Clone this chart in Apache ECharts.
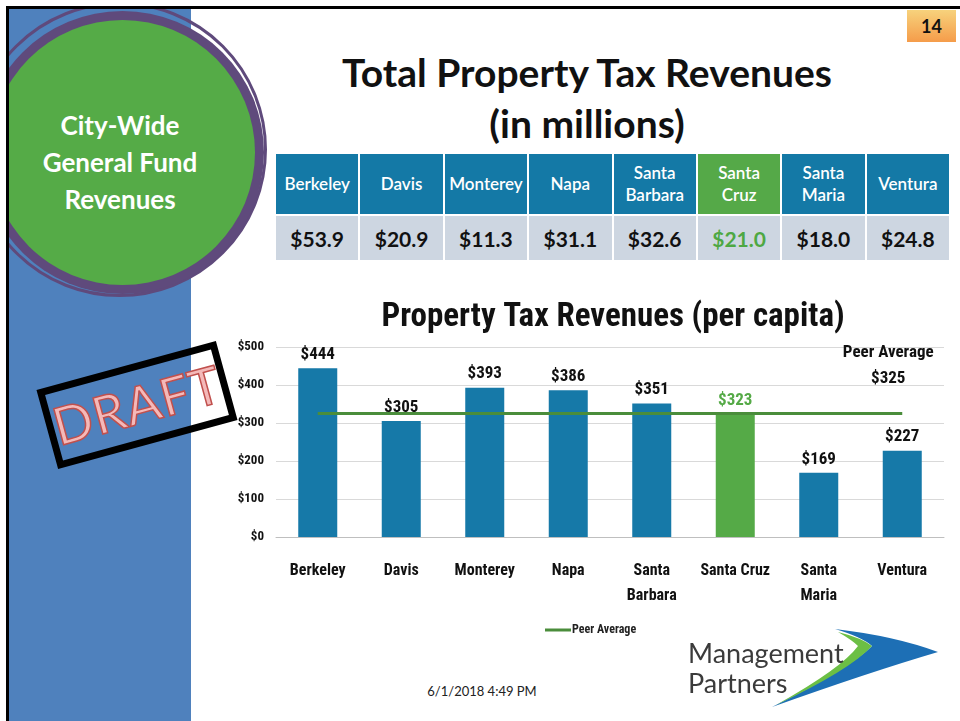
<!DOCTYPE html>
<html>
<head>
<meta charset="utf-8">
<title>Property Tax Revenues</title>
<script src="https://cdn.jsdelivr.net/npm/echarts@6.0.0/dist/echarts.min.js"></script>
<style>
  html, body { margin: 0; padding: 0; width: 960px; height: 721px; overflow: hidden; background: #fff; font-family: Lato, "Open Sans", sans-serif; }
  .abs { position: absolute; }
  #frame { left: 6px; top: 6px; width: 1000px; height: 1000px; border: 3px solid #000; }
  #slide { left: 9px; top: 9px; width: 960px; height: 720px; overflow: hidden; }
  #sidebar { left: 0; top: 0; width: 182px; height: 720px; background: #4f81bd; }
  #circle { left: -19px; top: 11px; width: 265px; height: 265px; border-radius: 50%; background: #55ab47; box-shadow: 0 0 0 9px #5f4a7c; }
  #ring { left: -37px; top: -7px; width: 295px; height: 295px; border-radius: 50%; border: 3px solid #5f4a7c; box-sizing: border-box; }
  #circleText { left: 20px; top: 107px; width: 200px; text-align: center; color: #fff; font-weight: bold; font-size: 26px; line-height: 37px; }
  #pageNo { left: 907px; top: 10px; width: 49px; height: 32px; background: linear-gradient(#f7d27c, #f59c4a); text-align: center; font-weight: bold; font-size: 18px; line-height: 32px; color: #111; }
  #title { left: 237px; top: 47px; width: 700px; text-align: center; font-weight: bold; font-size: 39px; line-height: 51px; color: #111; }
  #tbl { left: 274px; top: 152px; width: 677px; border-collapse: collapse; table-layout: fixed; }
  #tbl td { border: 2px solid #fff; text-align: center; padding: 0; }
  #tbl tr.head td { background: #1479a6; color: #fff; height: 60px; font-size: 17px; line-height: 22px; font-weight: 600; }
  #tbl tr.vals td { background: #cdd6e1; color: #111; height: 44px; font-size: 21px; font-weight: bold; }
  #tbl tr.head td.hl { background: #55a948; }
  #tbl tr.vals td.hl { color: #4ea843; }
  #chart { left: 0; top: 0; width: 960px; height: 721px; z-index: 2; }
  #stamp { left: 44px; top: 364px; width: 186px; height: 82px; box-sizing: border-box; border: 7px solid #000; transform: rotate(-15.3deg); z-index: 3; text-align: center; }
  #stamp span { display: block; font-size: 52px; line-height: 66px; color: #f4b9b9; -webkit-text-stroke: 1.5px #c0504d; font-family: Lato, sans-serif; letter-spacing: 1px; }
  #footer { left: 400px; top: 683px; width: 164px; text-align: center; font-size: 13px; color: #222; }
  #logoText { left: 688px; top: 638px; font-size: 27px; line-height: 30px; color: #3b3b3b; z-index: 4; }
  #swoosh { left: 0; top: 0; z-index: 3; }
</style>
</head>
<body>
<div id="frame" class="abs"></div>
<div id="slide" class="abs">
  <div id="sidebar" class="abs"></div>
  <div id="ring" class="abs"></div>
  <div id="circle" class="abs"></div>
</div>
<div id="circleText" class="abs">City-Wide<br>General Fund<br>Revenues</div>
<div id="pageNo" class="abs">14</div>
<div id="title" class="abs">Total Property Tax Revenues<br>(in millions)</div>
<table id="tbl" class="abs"><tr class="head"></tr><tr class="vals"></tr></table>
<div id="chart" class="abs"></div>
<div id="stamp" class="abs"><span>DRAFT</span></div>
<div id="footer" class="abs">6/1/2018 4:49 PM</div>
<svg id="swoosh" class="abs" width="960" height="721">
  <path d="M835 629 Q895 636 938 652 Q870 672 772 707 Q850 668 872 646 Q862 637 835 629 Z" fill="#1d6fb5"/>
  <path d="M838 632 Q862 638 872 646 Q850 670 776 705 Q842 668 858 646 Q852 640 838 632 Z" fill="#6cbf45"/>
</svg>
<div id="logoText" class="abs">Management<br>Partners</div>
<script>
  // table: total property tax (millions)
  const cities = ['Berkeley', 'Davis', 'Monterey', 'Napa', 'Santa Barbara', 'Santa Cruz', 'Santa Maria', 'Ventura'];
  const totalMillions = [53.9, 20.9, 11.3, 31.1, 32.6, 21.0, 18.0, 24.8];
  // chart: per capita
  const xLabels = ['Berkeley', 'Davis', 'Monterey', 'Napa', 'Santa\nBarbara', 'Santa Cruz', 'Santa\nMaria', 'Ventura'];
  const perCapita = [444, 305, 393, 386, 351, 323, 169, 227];
  const peerAverage = 325;
  const highlight = 'Santa Cruz';

  const blue = '#1679a8';
  const green = '#55aa47';
  const lineGreen = '#4a8d3b';
  const chartFont = '"Liberation Sans Narrow", "Roboto Condensed", Lato, sans-serif';

  let head = document.querySelector('#tbl tr.head');
  let vals = document.querySelector('#tbl tr.vals');
  cities.forEach((c, i) => {
    let cls = c === highlight ? ' class="hl"' : '';
    head.innerHTML += '<td' + cls + '>' + c.replace(' ', '<br>') + '</td>';
    vals.innerHTML += '<td' + cls + '>$' + totalMillions[i].toFixed(1) + '</td>';
  });

  let myChart = echarts.init(document.getElementById('chart'));
  let barData = perCapita.map((v, i) => {
    if (cities[i] === highlight) {
      return { value: v, itemStyle: { color: green }, label: { color: green } };
    }
    return v;
  });
  let lineData = cities.map(() => peerAverage);
  lineData[lineData.length - 1] = {
    value: peerAverage,
    label: {
      show: true,
      position: 'top',
      distance: 22,
      offset: [-14, 0],
      formatter: 'Peer Average\n$' + peerAverage,
      color: '#111',
      fontSize: 17,
      fontWeight: 'bold',
      fontFamily: chartFont,
      lineHeight: 26
    }
  };

  let option = {
    animation: false,
    textStyle: { fontFamily: chartFont },
    graphic: [{
      type: 'text',
      x: 613,
      y: 318,
      style: {
        text: 'Property Tax Revenues (per capita)',
        textAlign: 'center',
        textVerticalAlign: 'middle',
        fontSize: 33,
        fontWeight: 'bold',
        fontFamily: chartFont,
        fill: '#111'
      }
    }],
    grid: { left: 276, right: 16, top: 347, bottom: 184 },
    legend: {
      data: [{ name: 'Peer Average', icon: 'rect' }],
      left: 540,
      top: 619,
      itemWidth: 26,
      itemHeight: 3,
      itemGap: 2,
      textStyle: { fontSize: 12, fontWeight: 'bold', color: '#222', fontFamily: chartFont, padding: [0, 0, 0, -4] }
    },
    xAxis: {
      type: 'category',
      data: xLabels,
      axisTick: { show: false },
      axisLine: { lineStyle: { color: '#bfbfbf', width: 1 } },
      axisLabel: {
        interval: 0,
        margin: 21,
        color: '#111',
        fontSize: 16,
        fontWeight: 'bold',
        lineHeight: 25,
        fontFamily: chartFont
      }
    },
    yAxis: {
      type: 'value',
      min: 0,
      max: 500,
      interval: 100,
      axisLabel: {
        margin: 12,
        color: '#111',
        fontSize: 13,
        fontWeight: 'bold',
        fontFamily: chartFont,
        formatter: '${value}'
      },
      splitLine: { lineStyle: { color: '#d9d9d9' } }
    },
    series: [{
        name: 'Per Capita',
        type: 'bar',
        data: barData,
        barWidth: 39,
        itemStyle: { color: blue },
        label: {
          show: true,
          position: 'top',
          distance: 5,
          color: '#111',
          fontSize: 17,
          fontWeight: 'bold',
          fontFamily: chartFont,
          formatter: '${c}'
        }
      },
      {
        name: 'Peer Average',
        type: 'line',
        data: lineData,
        symbol: 'circle',
        symbolSize: 0,
        showSymbol: true,
        lineStyle: { color: lineGreen, width: 3 },
        itemStyle: { color: lineGreen },
        z: 3
      }
    ]
  };
  myChart.setOption(option);
</script>
</body>
</html>
